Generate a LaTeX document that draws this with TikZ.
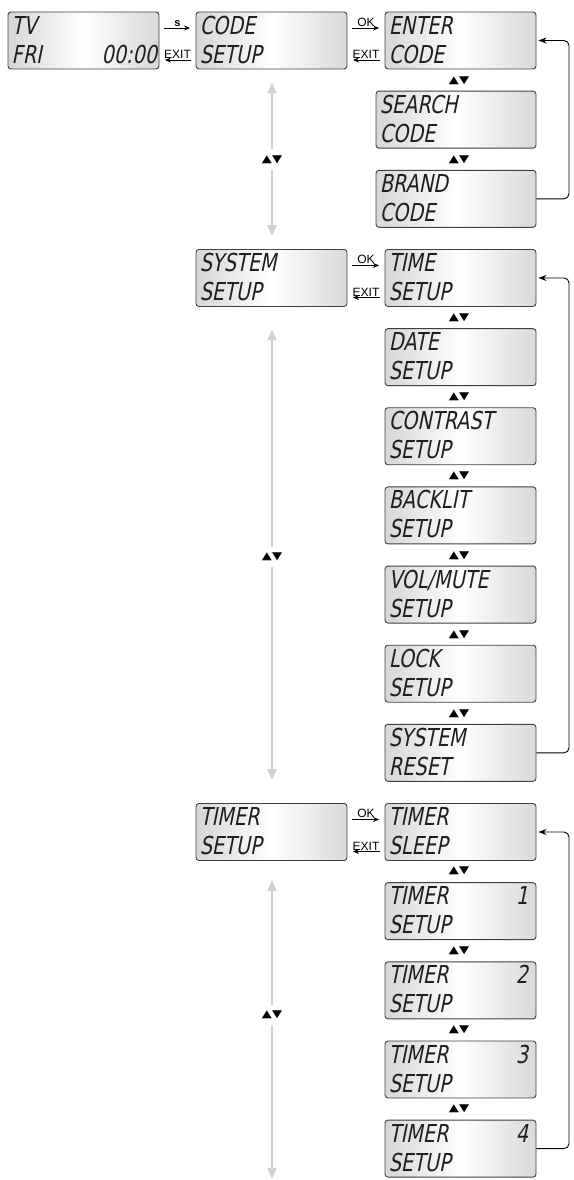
\documentclass[tikz,border=0pt]{standalone}
\usepackage{fontspec}
\setmainfont{Liberation Sans}
\newfontfamily\lcdfont{DejaVu Sans}[FakeStretch=0.78,FakeSlant=0.2]
\newfontfamily\symfont{DejaVu Sans}[FakeStretch=1.25]
\usetikzlibrary{arrows.meta}
\definecolor{lcdA}{gray}{0.84}
\definecolor{lcdC}{gray}{0.85}
\definecolor{lcdline}{gray}{0.25}
\definecolor{lcdtxt}{gray}{0.12}
\definecolor{guide}{gray}{0.82}
\newcommand\lcdpanel[5]{%
  \node[lcdbox] (#1) at (#2,#3+28.5) {};
  \node[lcdtext, anchor=base west] (#1-l1) at ([xshift=4pt,yshift=-22.5pt]#1.north west) {#4};
  \node[lcdtext, anchor=base west] (#1-l2) at ([xshift=4pt,yshift=-51.5pt]#1.north west) {#5};
}
\begin{document}
\begin{tikzpicture}[x=1pt,y=-1pt,
  lcdbox/.style={draw=lcdline, line width=0.9pt, rounded corners=3pt, left color=lcdA, right color=lcdC, middle color=white, minimum width=151pt, minimum height=57pt, inner sep=0pt},
  widebox/.style={lcdbox, minimum width=160pt},
  lcdtext/.style={font=\lcdfont\fontsize{24.7pt}{26pt}\selectfont, text=lcdtxt, inner sep=0pt},
  updn/.style={font=\symfont\fontsize{10.5pt}{10.5pt}\selectfont, inner xsep=1pt, inner ysep=6pt},
  guidearr/.style={draw=guide, line width=1.6pt, -{Triangle[length=11pt,width=9pt]}},
  keyarr/.style={draw=black, line width=0.9pt, -{Stealth[length=6pt,width=5pt]}, shorten <=4.5pt, shorten >=5.5pt},
  keylbl/.style={font=\fontsize{12pt}{12pt}\selectfont, inner sep=1pt},
  backarr/.style={draw=black, line width=0.9pt, rounded corners=5pt, -{Stealth[length=8pt,width=6pt]}, shorten >=2pt},
]
\useasboundingbox (0,0) rectangle (573,1180);

% top row
\lcdpanel{tv}{83.5}{12}{TV}{FRI}
\node[lcdtext, anchor=base east] (tv-r) at ([xshift=-2pt,yshift=-51.5pt]tv.north east) {00:00};
\lcdpanel{code}{271.5}{12}{CODE}{SETUP}
\lcdpanel{enter}{460.5}{12}{ENTER}{CODE}
\node[widebox] (search) at (456,91.15+28.5) {};
\node[lcdtext, anchor=base west] (search-l1) at ([xshift=4pt,yshift=-22.5pt]search.north west) {SEARCH};
\node[lcdtext, anchor=base west] (search-l2) at ([xshift=4pt,yshift=-51.5pt]search.north west) {CODE};
\node[widebox] (brand) at (456,170.3+28.5) {};
\node[lcdtext, anchor=base west] (brand-l1) at ([xshift=4pt,yshift=-22.5pt]brand.north west) {BRAND};
\node[lcdtext, anchor=base west] (brand-l2) at ([xshift=4pt,yshift=-51.5pt]brand.north west) {CODE};

% system section
\lcdpanel{system}{271.5}{249.45}{SYSTEM}{SETUP}
\lcdpanel{time}{460.5}{249.45}{TIME}{SETUP}
\lcdpanel{date}{460.5}{328.6}{DATE}{SETUP}
\lcdpanel{contrast}{460.5}{407.75}{CONTRAST}{SETUP}
\lcdpanel{backlit}{460.5}{486.9}{BACKLIT}{SETUP}
\lcdpanel{vol}{460.5}{566.05}{VOL/MUTE}{SETUP}
\lcdpanel{lock}{460.5}{645.2}{LOCK}{SETUP}
\lcdpanel{reset}{460.5}{724.35}{SYSTEM}{RESET}

% timer section
\lcdpanel{timer}{271.5}{803.5}{TIMER}{SETUP}
\lcdpanel{sleep}{460.5}{803.5}{TIMER}{SLEEP}
\lcdpanel{ta}{460.5}{882.65}{TIMER}{SETUP}
\lcdpanel{tb}{460.5}{961.8}{TIMER}{SETUP}
\lcdpanel{tc}{460.5}{1040.95}{TIMER}{SETUP}
\lcdpanel{td}{460.5}{1120.1}{TIMER}{SETUP}
\node[lcdtext, anchor=base east] (ta-r) at ([xshift=-8pt,yshift=-22.5pt]ta.north east) {1};
\node[lcdtext, anchor=base east] (tb-r) at ([xshift=-8pt,yshift=-22.5pt]tb.north east) {2};
\node[lcdtext, anchor=base east] (tc-r) at ([xshift=-8pt,yshift=-22.5pt]tc.north east) {3};
\node[lcdtext, anchor=base east] (td-r) at ([xshift=-8pt,yshift=-22.5pt]td.north east) {4};

% up/down symbols in right column
\foreach \nm/\yy in {u1/80.5, u2/159.65, u3/317.95, u4/397.1, u5/476.25, u6/555.4, u7/634.55, u8/713.7, u9/871.15, u10/950.3, u11/1029.45, u12/1108.6}{
  \node[updn] (\nm) at (459,\yy) {▲▼};
}

% key arrows
\draw[keyarr] ([yshift=12.5pt]tv.east) -- ([yshift=12.5pt]code.west) node[midway, above, keylbl, font=\bfseries\fontsize{11pt}{11pt}\selectfont] (k1) {s};
\draw[keyarr] ([yshift=-19.5pt]code.west) -- ([yshift=-19.5pt]tv.east) node[midway, above, keylbl] (k2) {EXIT};
\draw[keyarr] ([yshift=12.5pt]code.east) -- ([yshift=12.5pt]enter.west) node[midway, above, keylbl] (k3) {OK};
\draw[keyarr] ([yshift=-19.5pt]enter.west) -- ([yshift=-19.5pt]code.east) node[midway, above, keylbl] (k4) {EXIT};
\draw[keyarr] ([yshift=12.5pt]system.east) -- ([yshift=12.5pt]time.west) node[midway, above, keylbl] (k5) {OK};
\draw[keyarr] ([yshift=-19.5pt]time.west) -- ([yshift=-19.5pt]system.east) node[midway, above, keylbl] (k6) {EXIT};
\draw[keyarr] ([yshift=12.5pt]timer.east) -- ([yshift=12.5pt]sleep.west) node[midway, above, keylbl] (k7) {OK};
\draw[keyarr] ([yshift=-19.5pt]sleep.west) -- ([yshift=-19.5pt]timer.east) node[midway, above, keylbl] (k8) {EXIT};

% return loops
\coordinate (rl) at (569,0);
\draw[backarr] (brand.east) -| (rl |- enter.east) -- (enter.east);
\draw[backarr] (reset.east) -| (rl |- time.east) -- (time.east);
\draw[backarr] (td.east) -| (rl |- sleep.east) -- (sleep.east);

% grey guide arrows
\node[updn] (g1) at (272,159.5) {▲▼};
\node[updn] (g2) at (272,557) {▲▼};
\node[updn] (g3) at (272,1015) {▲▼};
\coordinate (gend) at (272,1179);
\draw[guidearr, shorten >=13pt] (g1) -- (g1 |- code.south);
\draw[guidearr, shorten >=13pt] (g1) -- (g1 |- system.north);
\draw[guidearr, shorten >=22.5pt] (g2) -- (g2 |- system.south);
\draw[guidearr, shorten >=23pt] (g2) -- (g2 |- timer.north);
\draw[guidearr, shorten >=19pt] (g3) -- (g3 |- timer.south);
\draw[guidearr] (g3) -- (gend);
\end{tikzpicture}
\end{document}
